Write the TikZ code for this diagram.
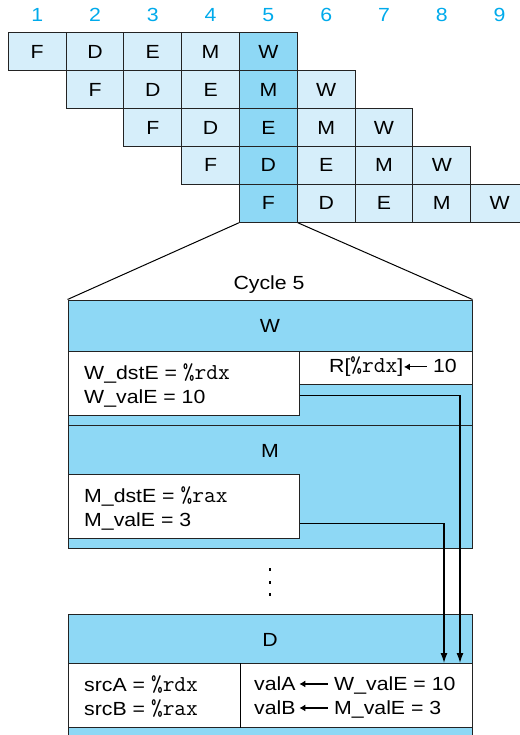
\documentclass[tikz,border=0pt]{standalone}
\usepackage{fontspec}
\setmainfont{Liberation Sans}[FakeStretch=1.12]
\setmonofont{Latin Modern Mono}[Scale=1.2]
\usetikzlibrary{positioning,arrows.meta}
\definecolor{cyclecyan}{RGB}{0,170,235}
\definecolor{lightcell}{RGB}{214,238,250}
\definecolor{darkcell}{RGB}{142,216,245}
\definecolor{edgegray}{RGB}{35,35,35}
\newcommand{\getsarrow}[1][1.0]{\tikz[x=1cm,y=1cm,baseline=-0.6ex]\draw[line width=1.1pt,{Latex[length=6pt,width=7pt]}-] (0,0) -- (#1,0);}

\begin{document}
\begin{tikzpicture}[
    x=1pt, y=-1pt,
    cell/.style={draw=edgegray, line width=1pt, fill=lightcell, minimum width=57.8pt, minimum height=37.9pt, inner sep=0pt, font=\fontsize{19}{22}\selectfont},
    hotcell/.style={cell, fill=darkcell},
    cyc/.style={text=cyclecyan, font=\fontsize{19}{22}\selectfont},
    band/.style={draw=edgegray, line width=1pt, fill=darkcell, minimum width=404pt, inner sep=0pt},
    regbox/.style={draw=edgegray, line width=1pt, fill=white, inner sep=0pt, anchor=north west},
    txt/.style={font=\fontsize{19}{24}\selectfont, align=left, inner sep=0pt},
    fwd/.style={-{Latex[length=10pt,width=7pt]}, line width=1.3pt}
  ]
  \useasboundingbox (0,0) rectangle (519,735);

  % cycle numbers
  \foreach \c in {1,...,9}
    \node[cyc] (n\c) at ({37.2+57.8*(\c-1)},15) {\c};

  % pipeline grid, row \r, stage \s
  \foreach \r in {0,...,4}
    \foreach \st [count=\s from 0] in {F,D,E,M,W} {
      \pgfmathtruncatemacro{\c}{\r+\s}
      \ifnum\c=4 \def\sty{hotcell}\else\def\sty{cell}\fi
      \node[\sty] (p\r\s) at ({37.2+57.8*\c},{51.7+37.9*\r}) {\st};
    }

  % expanded view of cycle 5
  \node[band, minimum height=125pt] (wsec) at (270,362.5) {};
  \node[band, minimum height=123pt] (msec) at (270,486.5) {};
  \node[band, minimum height=146pt] (dsec) at (270,687) {};

  \draw[line width=1pt] (p40.south west) -- (wsec.north west);
  \draw[line width=1pt] (p40.south east) -- (wsec.north east);
  \node[txt] (cyclab) at (269,285) {Cycle 5};

  % W stage
  \node[txt] (wlab) at (270,326) {W};
  \node[regbox, minimum width=231pt, minimum height=64pt] (wreg) at (68,351) {};
  \node[regbox, minimum width=173pt, minimum height=33pt] (wwrite) at (299,351) {};
  \node[txt, anchor=west] (wregtxt) at (84,385) {W\_dstE = \texttt{\%rdx}\\W\_valE = 10};
  \node[txt, anchor=east] (wwritetxt) at (457,367) {R[\texttt{\%rdx}]\getsarrow[0.8]\ 10};

  % M stage
  \node[txt] (mlab) at (270,451) {M};
  \node[regbox, minimum width=231pt, minimum height=64pt] (mreg) at (68,474) {};
  \node[txt, anchor=west] (mregtxt) at (84,508) {M\_dstE = \texttt{\%rax}\\M\_valE = 3};

  % elided stages
  \foreach \y in {568,581,593}
    \fill (268.8,\y) rectangle ++(2.6,2.6);

  % D stage
  \node[txt] (dlab) at (270,640) {D};
  \node[regbox, minimum width=404pt, minimum height=64pt] (dreg) at (68,663) {};
  \draw[line width=1pt] ([xshift=172pt]dreg.north west) -- ([xshift=172pt]dreg.south west);
  \node[txt, anchor=west] (srctxt) at (84,697) {srcA = \texttt{\%rdx}\\srcB = \texttt{\%rax}};
  \node[txt, anchor=west] (valtxt) at (254,697) {valA\,\getsarrow\ W\_valE = 10\\valB\,\getsarrow\ M\_valE = 3};

  % forwarding paths
  \draw[fwd] ([yshift=-12pt]wreg.east) -| ([xshift=-13pt]dreg.north east);
  \draw[fwd] ([yshift=-17pt]mreg.east) -| ([xshift=-29pt]dreg.north east);
\end{tikzpicture}
\end{document}
